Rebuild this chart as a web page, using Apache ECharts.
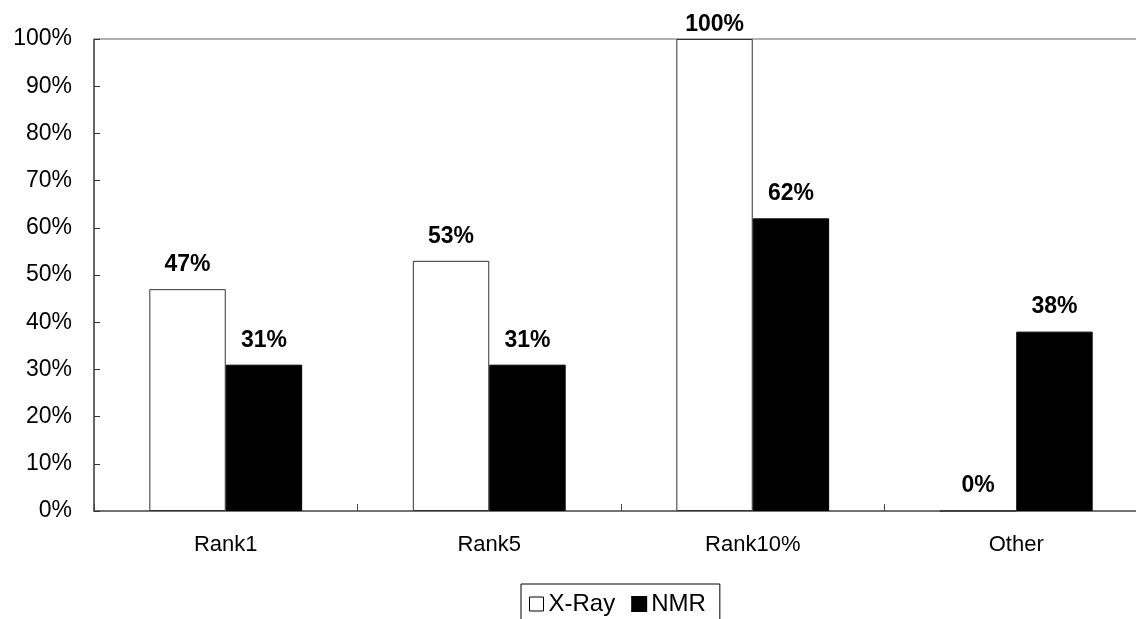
<!DOCTYPE html>
<html>
<head>
<meta charset="utf-8">
<script src="https://cdn.jsdelivr.net/npm/echarts@6/dist/echarts.min.js"></script>
<style>
  html, body { margin: 0; padding: 0; background: #fff; overflow: hidden; width: 1136px; height: 619px; }
  /* the plot runs a little past the right edge of the page */
  #chart { width: 1160px; height: 619px; }
</style>
</head>
<body>
<div id="chart"></div>
<script>
// Categories and percentages per structure method
const categories = ['Rank1', 'Rank5', 'Rank10%', 'Other'];
const xrayValues = [47, 53, 100, 0];
const nmrValues = [31, 31, 62, 38];
const seriesNames = ['X-Ray', 'NMR'];

const FONT = '"Liberation Sans", Arial, sans-serif';

const chart = echarts.init(document.getElementById('chart'));

// Label sits closer to the bar when it would otherwise leave the top edge
function withLabelDistance(values) {
  return values.map(v => ({
    value: v,
    label: { distance: v >= 100 ? 3 : 13 }
  }));
}

const valueLabel = {
  show: true,
  position: 'top',
  formatter: '{c}%',
  color: '#000',
  fontFamily: FONT,
  fontWeight: 'bold',
  fontSize: 23
};

chart.setOption({
  backgroundColor: '#ffffff',
  animation: false,
  textStyle: { fontFamily: FONT },
  grid: { left: 94, top: 39, width: 1054, height: 472, containLabel: false },
  legend: {
    data: [
      { name: seriesNames[0], icon: 'rect', itemStyle: { color: '#fff', borderColor: '#000', borderWidth: 1 } },
      { name: seriesNames[1], icon: 'rect', itemStyle: { color: '#000' } }
    ],
    left: 521,
    top: 584,
    orient: 'horizontal',
    itemWidth: 14,
    itemHeight: 14,
    itemGap: 16,
    padding: [8, 14, 40, 8],
    borderColor: '#000',
    borderWidth: 1,
    textStyle: { color: '#000', fontSize: 24, fontFamily: FONT }
  },
  xAxis: [
    {
      type: 'category',
      data: categories,
      position: 'bottom',
      axisLine: { show: true, lineStyle: { color: '#444', width: 1.5 } },
      axisTick: { show: true, inside: true, length: 7, lineStyle: { color: '#444' } },
      axisLabel: { color: '#000', fontSize: 22, fontFamily: FONT, margin: 23 },
      splitLine: { show: false }
    },
    {
      type: 'category',
      data: categories,
      position: 'top',
      axisLine: { show: true, lineStyle: { color: '#b0b0b0', width: 2 } },
      axisTick: { show: false },
      axisLabel: { show: false },
      splitLine: { show: false }
    }
  ],
  yAxis: {
    type: 'value',
    min: 0,
    max: 100,
    interval: 10,
    axisLine: { show: true, lineStyle: { color: '#333', width: 1.5 } },
    axisTick: { show: true, inside: true, length: 6, lineStyle: { color: '#333' } },
    axisLabel: { color: '#000', fontSize: 23, fontFamily: FONT, margin: 22, formatter: '{value}%' },
    splitLine: { show: false }
  },
  series: [
    {
      name: seriesNames[0],
      type: 'bar',
      data: withLabelDistance(xrayValues),
      barGap: '0%',
      barCategoryGap: '42%',
      itemStyle: { color: '#ffffff', borderColor: '#333', borderWidth: 1 },
      label: valueLabel
    },
    {
      name: seriesNames[1],
      type: 'bar',
      data: withLabelDistance(nmrValues),
      barGap: '0%',
      barCategoryGap: '42%',
      itemStyle: { color: '#000000', borderColor: '#000', borderWidth: 1 },
      label: valueLabel
    }
  ]
});
</script>
</body>
</html>
